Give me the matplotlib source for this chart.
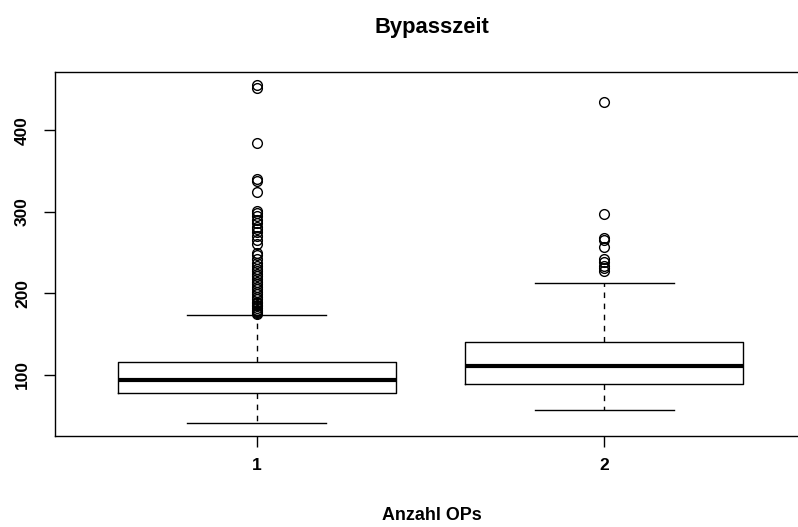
import matplotlib
matplotlib.use("Agg")
import matplotlib.pyplot as plt

plt.rcParams['font.family'] = ['Liberation Sans', 'DejaVu Sans']

# Anzahl OPs groups
groups = ['1', '2']

# box statistics
q1 = [77.5, 88.5]
med = [94.0, 111.5]
q3 = [116.0, 140.5]
whis_lo = [41.5, 57.0]
whis_hi = [174.0, 213.0]

# outliers
out1 = [455, 452, 385, 340, 338, 324, 301, 298, 295, 290, 286, 282, 279, 275,
        270, 265, 260, 250, 247, 242, 237, 233, 230, 227, 224, 221, 218, 214,
        211, 208, 205, 202, 199, 196, 193, 190, 188, 186, 184, 182, 180, 178,
        177, 176, 175]
out2 = [435, 297, 268, 265, 257, 242, 238, 234, 231, 228]
fliers = [out1, out2]

stats = []
for i in range(len(groups)):
    stats.append({'label': groups[i], 'q1': q1[i], 'med': med[i], 'q3': q3[i],
                  'whislo': whis_lo[i], 'whishi': whis_hi[i], 'fliers': fliers[i]})

fig = plt.figure(figsize=(7.98, 5.27), dpi=100)
ax = fig.add_axes([55/798, 91/527, 751/798, 364/527])

ax.bxp(stats, positions=[1, 2], widths=0.8,
       boxprops=dict(color='black', linewidth=1),
       medianprops=dict(color='black', linewidth=3, solid_capstyle='butt'),
       whiskerprops=dict(color='black', linewidth=1, linestyle=(0, (4, 4))),
       capprops=dict(color='black', linewidth=1),
       flierprops=dict(marker='o', markerfacecolor='none', markeredgecolor='black',
                       markersize=7, markeredgewidth=1),
       capwidths=0.4)

ax.set_xlim(0.42, 2.58)
ax.set_ylim(25.1, 471.5)
ax.set_yticks([100, 200, 300, 400])
ax.set_xticks([1, 2])
ax.set_xticklabels(groups)
for s in ax.spines.values():
    s.set_linewidth(1)
ax.tick_params(axis='both', length=8, width=1, labelsize=12.5, direction='out')
ax.tick_params(axis='x', pad=8)
ax.tick_params(axis='y', pad=10)
for t in ax.get_yticklabels():
    t.set_rotation(90)
    t.set_va('center')
    t.set_fontweight('bold')
for t in ax.get_xticklabels():
    t.set_fontweight('bold')

fig.text(432/798, 1 - 28/527, 'Bypasszeit', ha='center', va='center',
         fontsize=15.8, fontweight='bold')
fig.text(432/798, 1 - 516/527, 'Anzahl OPs', ha='center', va='center',
         fontsize=12.9, fontweight='bold')

fig.savefig('out.png', dpi=100)
